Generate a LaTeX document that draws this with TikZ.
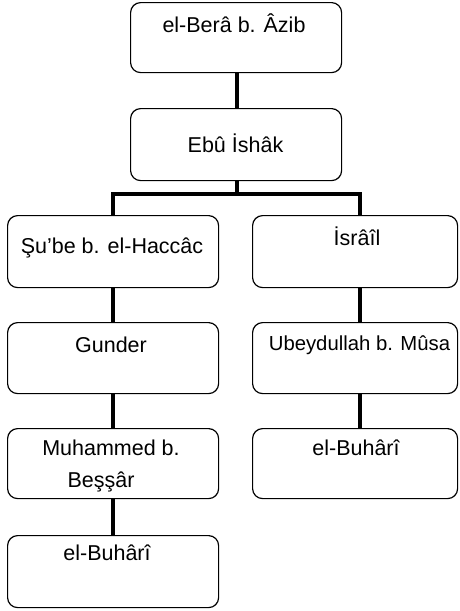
\documentclass[tikz,border=0pt]{standalone}
\usepackage{fontspec}
\setmainfont{Liberation Sans}

\begin{document}
\begin{tikzpicture}[x=1pt,y=1pt,yscale=-1,xscale=1,
  ravi/.style={draw, rounded corners=10pt, line width=1.2pt, inner sep=0pt, anchor=north west},
  isim/.style={inner sep=0.75pt, anchor=base, font=\fontsize{21.5}{25}\selectfont},
  bag/.style={line width=3.5pt},
  ]
\useasboundingbox (0,0) rectangle (459,611);

%Shape: Rounded Rect [el-Bera]
\node [ravi, minimum width=211, minimum height=70] (bera) at (130,2) {};
%Shape: Rounded Rect [Ebu Ishak]
\node [ravi, minimum width=211, minimum height=72] (ebu) at (130,108) {};
%Shape: Rounded Rect [Sube]
\node [ravi, minimum width=211, minimum height=72] (sube) at (7,215) {};
%Shape: Rounded Rect [Israil]
\node [ravi, minimum width=205, minimum height=72] (israil) at (252,215) {};
%Shape: Rounded Rect [Gunder]
\node [ravi, minimum width=211, minimum height=71] (gunder) at (7,322) {};
%Shape: Rounded Rect [Ubeydullah]
\node [ravi, minimum width=205, minimum height=71] (ubeyd) at (252,322) {};
%Shape: Rounded Rect [Muhammed]
\node [ravi, minimum width=211, minimum height=70] (muhammed) at (7,428) {};
%Shape: Rounded Rect [Buhari sag]
\node [ravi, minimum width=205, minimum height=70] (buharisag) at (252,428) {};
%Shape: Rounded Rect [Buhari sol]
\node [ravi, minimum width=211, minimum height=72] (buharisol) at (7,535) {};

%Straight Lines
\coordinate (catal) at (237,194);
\coordinate (sagkol) at (360,0);
\draw [bag] (bera.south -| catal) -- (ebu.north -| catal);
\draw [bag] (ebu.south -| catal) -- (catal);
\draw [bag, line join=miter] (sube.north) |- (catal) -| (israil.north -| sagkol);
\draw [bag] (sube.south) -- (gunder.north);
\draw [bag] (gunder.south) -- (muhammed.north);
\draw [bag] (muhammed.south) -- (buharisol.north);
\draw [bag] (israil.south -| sagkol) -- (ubeyd.north -| sagkol);
\draw [bag] (ubeyd.south -| sagkol) -- (buharisag.north -| sagkol);

% Text Node
\draw (234,32) node [isim] (tbera) {el-Berâ b. Âzib};
% Text Node
\draw (235.5,152) node [isim] (tebu) {Ebû İshâk};
% Text Node
\draw (112,253) node [isim] (tsube) {Şu’be b. el-Haccâc};
% Text Node
\draw (357,245) node [isim] (tisrail) {İsrâîl};
% Text Node
\draw (111,352) node [isim] (tgunder) {Gunder};
% Text Node
\draw (359.5,350) node [isim, font=\fontsize{20.3}{24}\selectfont] (tubeyd) {Ubeydullah b. Mûsa};
% Text Node
\draw (111,455) node [isim] (tmuhammed1) {Muhammed b.};
% Text Node
\draw (101,487) node [isim] (tmuhammed2) {Beşşâr};
% Text Node
\draw (356,455) node [isim] (tbuharisag) {el-Buhârî};
% Text Node
\draw (107,560) node [isim] (tbuharisol) {el-Buhârî};

\end{tikzpicture}
\end{document}
